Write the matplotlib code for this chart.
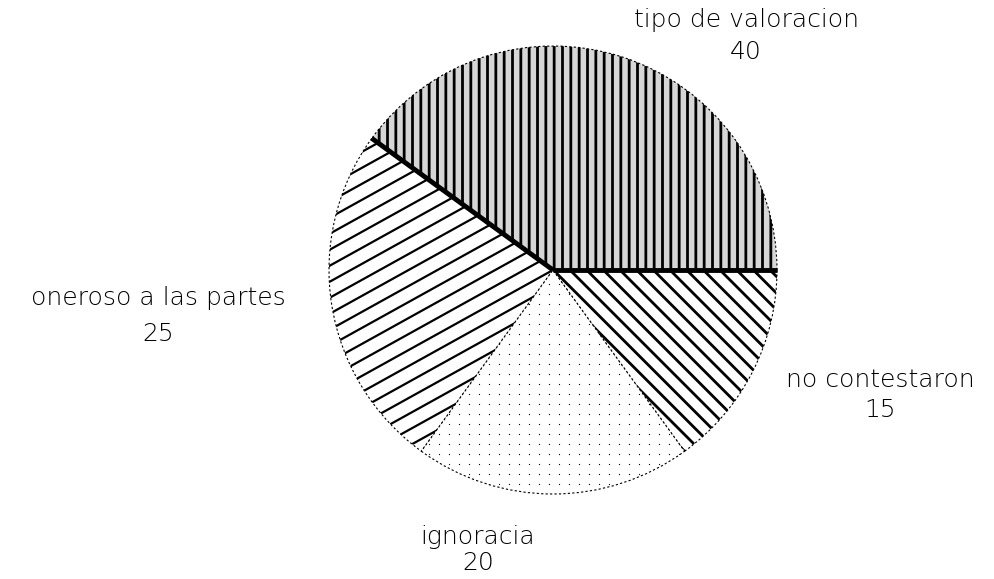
import numpy as np
import matplotlib
matplotlib.use("Agg")
import matplotlib.pyplot as plt

# datos
categorias = ["tipo de valoracion", "oneroso a las partes", "ignoracia", "no contestaron"]
valores = [40, 25, 20, 15]
tramas = ["||", "", "", "\\\\"]

W, H = 995, 579
cx, cy, r = 553, 270, 224  # centro y radio del pastel en pixeles

plt.rcParams['font.family'] = ['DejaVu Sans']
plt.rcParams['hatch.linewidth'] = 2.0

fig = plt.figure(figsize=(W / 100, H / 100), dpi=100)
ax = fig.add_axes([0, 0, 1, 1])

wedges, _ = ax.pie(valores, startangle=0, counterclock=True, radius=1,
                   colors=['white', 'white', 'white', 'white'],
                   wedgeprops=dict(edgecolor='black', linewidth=0.8, linestyle=(0, (2, 2))))
for w, h in zip(wedges, tramas):
    w.set_hatch(h)
wedges[0].set_facecolor('#d6d6d6')

ax.set_xlim(-cx / r, (W - cx) / r)
ax.set_ylim(-(H - cy) / r, cy / r)
ax.set_aspect('auto')
ax.axis('off')

# rayado inclinado del sector "oneroso" (unos 30 grados)
paso = 14 / r
ang = np.deg2rad(29)
d = np.array([np.cos(ang), np.sin(ang)])
n = np.array([-np.sin(ang), np.cos(ang)])
for k in np.arange(-1.5, 1.5, paso):
    p0 = n * k - d * 1.5
    p1 = n * k + d * 1.5
    ln, = ax.plot([p0[0], p1[0]], [p0[1], p1[1]], color='black', lw=1.6)
    ln.set_clip_path(wedges[1])

# puntos finos del sector "ignoracia"
g = np.arange(-1.0, 1.0, 10 / r)
gx, gy = np.meshgrid(g, g)
sc = ax.scatter(gx.ravel(), gy.ravel(), s=0.8, color='black', linewidths=0)
sc.set_clip_path(wedges[2])

# bordes gruesos del sector mayor
fr = np.cumsum([0] + valores) / sum(valores)
for a in [fr[0], fr[1]]:
    t = 2 * np.pi * a
    ax.plot([0, np.cos(t)], [0, np.sin(t)], color='black', lw=3.5, solid_capstyle='butt')

# etiquetas
pos_etiquetas = [(746, 20), (158, 298), (478, 537), (880, 380)]
sep = [32, 36, 26, 30]
for (px, py), nombre, v, s in zip(pos_etiquetas, categorias, valores, sep):
    x = (px - cx) / r
    y = (cy - py) / r
    ax.text(x, y, nombre, ha='center', va='center', fontsize=18, fontweight=200)
    ax.text(x, y - s / r, str(v), ha='center', va='center', fontsize=18, fontweight=200)

fig.savefig("out.png", dpi=100)
